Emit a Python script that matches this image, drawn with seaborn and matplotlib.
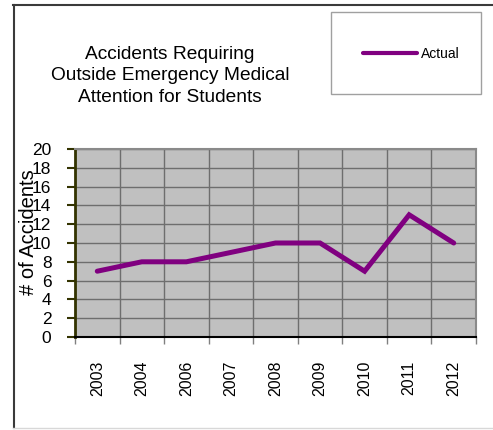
import matplotlib
matplotlib.use('Agg')
import matplotlib.pyplot as plt
import seaborn as sns
import pandas as pd
from matplotlib.patches import Rectangle
from matplotlib.lines import Line2D
from matplotlib.ticker import FixedLocator

years = ['2003', '2004', '2006', '2007', '2008', '2009', '2010', '2011', '2012']
accidents = [7, 8, 8, 9, 10, 10, 7, 13, 10]
series_name = 'Actual'
title_text = "Accidents Requiring\nOutside Emergency Medical\nAttention for Students"
y_label = "# of Accidents"
y_ticks = list(range(0, 21, 2))

plt.rcParams['font.family'] = ['Liberation Sans', 'DejaVu Sans']

W, H = 493, 430
fig = plt.figure(figsize=(W / 100, H / 100), dpi=100)
fig.patch.set_facecolor('white')
ax = fig.add_axes([75 / W, 1 - 337 / H, 401 / W, 188 / H])

df = pd.DataFrame({'Year': years, 'Accidents': accidents, 'Series': series_name})
sns.lineplot(data=df, x='Year', y='Accidents', hue='Series',
             palette={series_name: '#800080'}, linewidth=3.6, sort=False,
             ax=ax, solid_capstyle='round', solid_joinstyle='miter')

ax.set_xlim(-0.5, len(years) - 0.5)
ax.set_ylim(0, 20)
ax.set_yticks(y_ticks)
ax.xaxis.set_minor_locator(FixedLocator([i - 0.5 for i in range(len(years) + 1)]))
ax.set_facecolor('#c0c0c0')
ax.set_axisbelow(True)
ax.grid(which='minor', axis='x', color='#6e6e6e', lw=1)
ax.grid(which='major', axis='x', visible=False)
ax.grid(which='major', axis='y', color='#6e6e6e', lw=1)

ax.tick_params(axis='x', which='major', length=0, pad=17, labelsize=11.5, labelrotation=90)
ax.tick_params(axis='x', which='minor', length=5, width=1, color='#808080', direction='out')
ax.tick_params(axis='y', length=6, width=1.5, color='#333300', pad=11, labelsize=12.5)
ax.set_xlabel('')
ax.set_ylabel(y_label, fontsize=14.5, va='center')
ax.yaxis.set_label_coords(-0.116, 0.56)

ax.spines['left'].set_color('#333300')
ax.spines['left'].set_linewidth(2)
ax.spines['bottom'].set_color('black')
ax.spines['bottom'].set_linewidth(1.5)
for s in ('top', 'right'):
    ax.spines[s].set_color('#8a8a8a')
    ax.spines[s].set_linewidth(1.5)

sns.move_legend(ax, loc='center left', bbox_to_anchor=(363 / W, 1 - 53.5 / H),
                bbox_transform=fig.transFigure, frameon=False, title=None,
                handlelength=3.9, handletextpad=0.3, fontsize=10,
                borderpad=0, borderaxespad=0)
for h in ax.get_legend().get_lines():
    h.set_linewidth(3)

fig.add_artist(Rectangle((331 / W, 1 - 94 / H), 150 / W, 82 / H, transform=fig.transFigure,
                         facecolor='none', edgecolor='#a0a0a0', lw=1))

fig.text(170 / W, 1 - 76 / H, title_text, ha='center', va='center',
         fontsize=13.8, linespacing=1.32)

# outer chart border
fig.add_artist(Line2D([13 / W, 1], [1 - 4.5 / H] * 2, color='#3a3a3a', lw=1.5, transform=fig.transFigure))
fig.add_artist(Line2D([13.5 / W] * 2, [1 - 4.5 / H, 1 - 428 / H], color='#3a3a3a', lw=1.5, transform=fig.transFigure))
fig.add_artist(Line2D([13 / W, 1], [1 - 428 / H] * 2, color='#d8d8d8', lw=1, transform=fig.transFigure))

fig.savefig('out.png', dpi=100)
